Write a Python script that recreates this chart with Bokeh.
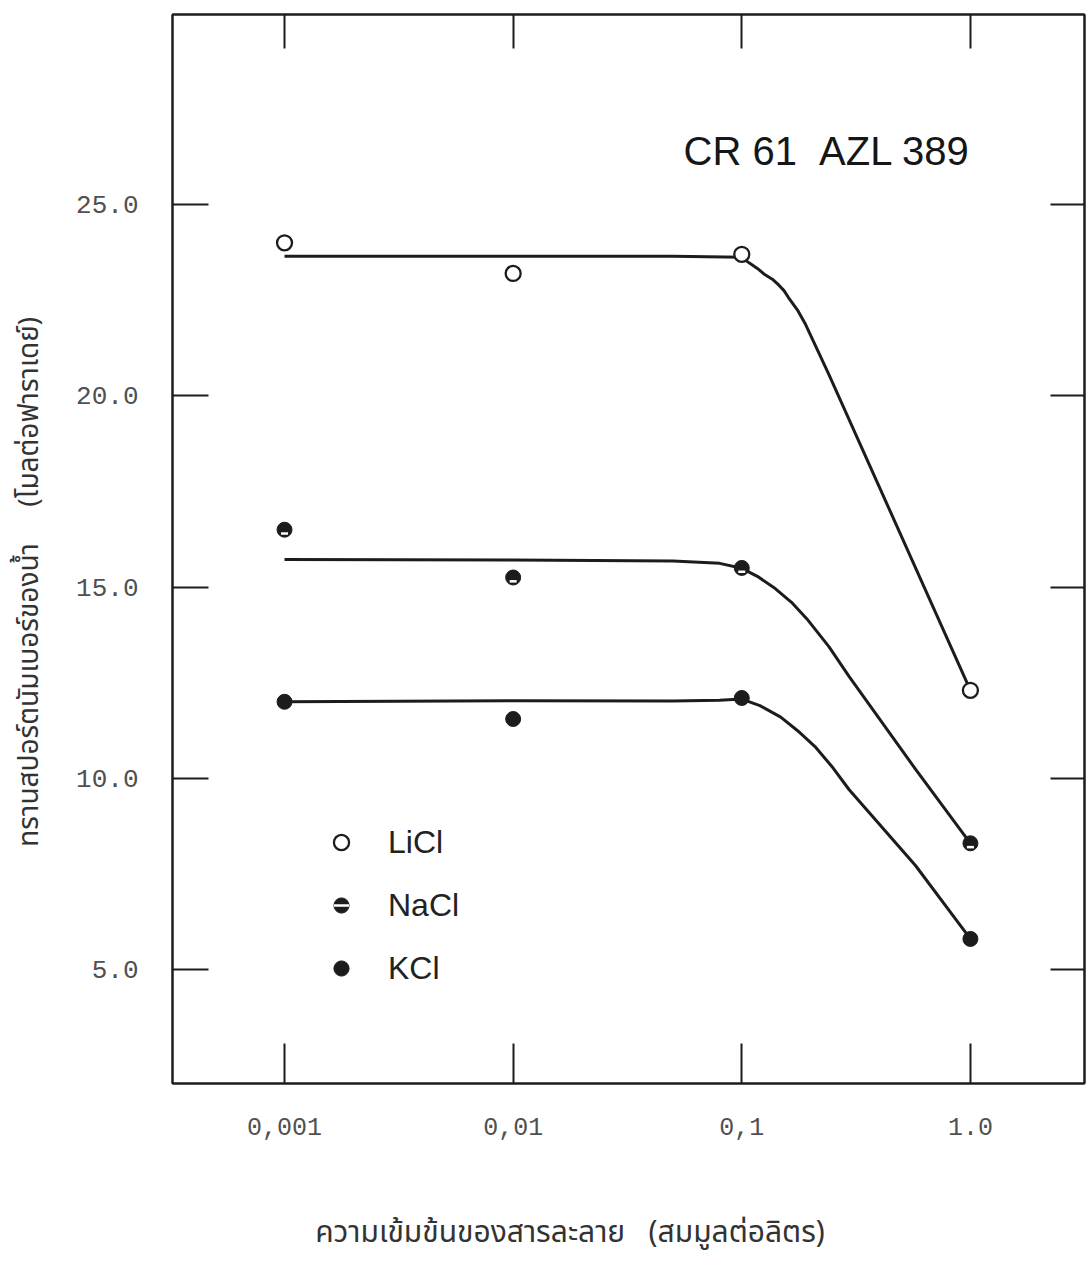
from bokeh.plotting import figure
from bokeh.models import (LogAxis, LinearAxis, FixedTicker, Legend, LegendItem,
                          Label, Range1d)
from bokeh.embed import file_html
from bokeh.resources import INLINE

# ---------------- data ----------------
conc = [0.001, 0.01, 0.1, 1.0]
licl = [24.0, 23.2, 23.7, 12.3]
nacl = [16.5, 15.25, 15.5, 8.3]
kcl = [12.0, 11.55, 12.1, 5.8]

# fitted curves
licl_curve_x = [0.001, 0.01, 0.05, 0.1, 0.108, 0.117, 0.126, 0.136, 0.145, 0.153, 0.16, 0.175, 0.19, 0.24, 1.0]
licl_curve_y = [23.65, 23.65, 23.65, 23.62, 23.47, 23.33, 23.17, 23.05, 22.9, 22.75, 22.57, 22.25, 21.87, 20.57, 12.3]
nacl_curve_x = [0.001, 0.01, 0.05, 0.08, 0.1, 0.117, 0.138, 0.165, 0.195, 0.24, 0.295, 0.575, 1.0]
nacl_curve_y = [15.72, 15.71, 15.68, 15.62, 15.49, 15.28, 14.99, 14.6, 14.13, 13.45, 12.66, 10.24, 8.3]
kcl_curve_x = [0.001, 0.01, 0.05, 0.08, 0.1, 0.12, 0.148, 0.175, 0.209, 0.25, 0.295, 0.575, 1.0]
kcl_curve_y = [12.0, 12.03, 12.02, 12.04, 12.07, 11.9, 11.6, 11.25, 10.83, 10.28, 9.7, 7.72, 5.8]

x_ticks = [0.001, 0.01, 0.1, 1.0]
x_tick_labels = ["0,001", "0,01", "0,1", "1.0"]
y_ticks = [5, 10, 15, 20, 25]
y_tick_labels = ["5.0", "10.0", "15.0", "20.0", "25.0"]

NB = "\u00a0"
x_label = "ความเข้มข้นของสารละลาย" + NB * 3 + "(สมมูลต่อลิตร)" + NB * 15
y_label = "ทรานสปอร์ตนัมเบอร์ของน้ำ" + NB * 5 + "(โมลต่อฟาราเดย์)" + NB * 9
title_text = "CR 61" + NB * 2 + "AZL 389"

INK = "#1c1c1c"
TXT = "#505050"
THAI_FONT = "'Tlwg Typo', 'Noto Sans Thai', 'Noto Sans', sans-serif"

p = figure(width=1088, height=1258, x_axis_type="log",
           x_range=Range1d(10 ** -3.49, 10 ** 0.499), y_range=Range1d(2.02, 29.97),
           output_backend="svg", toolbar_location=None,
           min_border_left=172, min_border_right=4, min_border_top=14,
           min_border_bottom=170)
p.grid.visible = False
p.outline_line_color = INK
p.outline_line_width = 2
p.background_fill_color = "white"

# bottom axis
xa = p.xaxis[0]
xa.ticker = FixedTicker(ticks=x_ticks)
xa.major_label_overrides = dict(zip(x_ticks, x_tick_labels))
xa.minor_tick_line_color = None
xa.major_tick_in = 40
xa.major_tick_out = 0
xa.major_tick_line_width = 2
xa.major_tick_line_color = INK
xa.axis_line_width = 2
xa.axis_line_color = INK
xa.major_label_standoff = 34
xa.major_label_text_font = "Liberation Mono"
xa.major_label_text_font_size = "25px"
xa.major_label_text_color = TXT
xa.axis_label = x_label
xa.axis_label_standoff = 72
xa.axis_label_text_font = THAI_FONT
xa.axis_label_text_font_size = "30px"
xa.axis_label_text_font_style = "normal"
xa.axis_label_text_color = "#333333"

# left axis
ya = p.yaxis[0]
ya.ticker = FixedTicker(ticks=y_ticks)
ya.major_label_overrides = dict(zip(y_ticks, y_tick_labels))
ya.minor_tick_line_color = None
ya.major_tick_in = 36
ya.major_tick_out = 0
ya.major_tick_line_width = 2
ya.major_tick_line_color = INK
ya.axis_line_width = 2
ya.axis_line_color = INK
ya.major_label_standoff = 34
ya.major_label_text_font = "Liberation Mono"
ya.major_label_text_font_size = "26px"
ya.major_label_text_color = TXT
ya.axis_label = y_label
ya.axis_label_standoff = 22
ya.axis_label_text_font = THAI_FONT
ya.axis_label_text_font_size = "28px"
ya.axis_label_text_font_style = "normal"
ya.axis_label_text_color = "#333333"

# mirrored tick axes (top / right) without labels
top = LogAxis(ticker=FixedTicker(ticks=x_ticks), major_tick_in=34, major_tick_out=0,
              major_tick_line_width=2, major_tick_line_color=INK,
              minor_tick_line_color=None, axis_line_width=2, axis_line_color=INK,
              major_label_overrides={t: "" for t in x_ticks},
              major_label_text_font_size="1px", major_label_text_alpha=0,
              major_label_standoff=0)
p.add_layout(top, "above")
right = LinearAxis(ticker=FixedTicker(ticks=y_ticks), major_tick_in=34, major_tick_out=0,
                   major_tick_line_width=2, major_tick_line_color=INK,
                   minor_tick_line_color=None, axis_line_width=2, axis_line_color=INK,
                   major_label_overrides={t: "" for t in y_ticks},
                   major_label_text_font_size="1px", major_label_text_alpha=0,
                   major_label_standoff=0)
p.add_layout(right, "right")

# curves
p.line(licl_curve_x, licl_curve_y, line_color=INK, line_width=3, line_join="round")
p.line(nacl_curve_x, nacl_curve_y, line_color=INK, line_width=3, line_join="round")
p.line(kcl_curve_x, kcl_curve_y, line_color=INK, line_width=3, line_join="round")

# markers
r_li = p.scatter(conc, licl, marker="circle", size=15, fill_color="white",
                 line_color=INK, line_width=2.3)
r_na = p.scatter(conc, nacl, marker="circle", size=15, fill_color=INK,
                 line_color=INK, line_width=1)
r_na2 = p.scatter(conc, [v - 0.1 for v in nacl], marker="dash", size=7,
                  line_color="white", line_width=2.5)
r_k = p.scatter(conc, kcl, marker="circle", size=15, fill_color=INK,
                line_color=INK, line_width=1)

legend = Legend(items=[LegendItem(label="LiCl", renderers=[r_li]),
                       LegendItem(label="NaCl", renderers=[r_na, r_na2]),
                       LegendItem(label="KCl", renderers=[r_k])],
                location=(150, 96), border_line_alpha=0, background_fill_alpha=0,
                padding=0, margin=0, spacing=25, glyph_height=38, glyph_width=38,
                label_height=38, label_standoff=28,
                label_text_font="Liberation Sans", label_text_font_size="32px",
                label_text_color="#222222")
p.add_layout(legend)

p.add_layout(Label(x=511, y=933, x_units="screen", y_units="screen", text=title_text,
                   text_font="Liberation Sans", text_font_size="40px",
                   text_color="#161616", text_baseline="alphabetic"))

open("out.html", "w").write(file_html(p, INLINE))
